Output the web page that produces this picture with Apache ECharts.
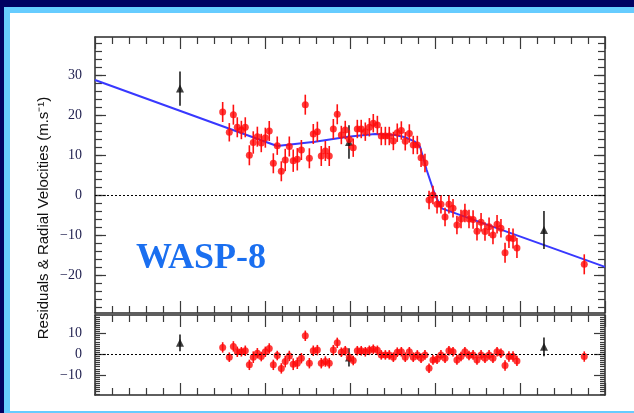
<!DOCTYPE html>
<html lang="en">
<head>
<meta charset="UTF-8">
<title>WASP-8</title>
<script src="https://cdn.jsdelivr.net/npm/echarts@6/dist/echarts.min.js"></script>
<style>
html, body { margin: 0; padding: 0; background: #000062; }
#container { width: 634px; height: 413px; }
</style>
</head>
<body>
<div id="container"></div>
<script>
// orbital phase (arbitrary axis units, 0..30, no labels on the plot)
var phase = [7.51, 7.90, 8.14, 8.37, 8.61, 8.84, 9.08, 9.31, 9.55, 9.78,
             10.02, 10.25, 10.49, 10.72, 10.96, 11.19, 11.43, 11.66, 11.90, 12.14,
             12.37, 12.61, 12.84, 13.08, 13.31, 13.55, 13.78, 14.02, 14.25, 14.49,
             14.72, 14.96, 15.19, 15.43, 15.66, 15.90, 16.14, 16.37, 16.61, 16.84,
             17.08, 17.31, 17.55, 17.78, 18.02, 18.25, 18.49, 18.72, 18.96, 19.18,
             19.41, 19.65, 19.88, 20.12, 20.35, 20.59, 20.82, 21.06, 21.29, 21.53,
             21.76, 22.00, 22.24, 22.47, 22.71, 22.94, 23.18, 23.41, 23.65, 23.88,
             24.12, 24.35, 24.59, 24.82, 28.78];
var rv = [20.75, 15.68, 20.08, 16.93, 16.25, 16.93, 9.93, 13.13, 14.58, 13.0,
          14.33, 16.0, 7.93, 12.33, 5.93, 8.75, 12.13, 8.58, 8.93, 11.25,
          22.58, 9.18, 15.25, 15.83, 9.75, 11.0, 9.75, 16.5, 20.18, 15.0,
          16.25, 13.88, 11.83, 16.5, 16.5, 15.83, 16.93, 17.95, 17.5, 14.75,
          14.75, 14.75, 13.5, 15.58, 16.13, 13.43, 15.38, 12.5, 12.5, 9.33,
          8.0, -1.25, 0, -2.33, -2.33, -5.5, -2.33, -3.33, -7.5, -6.0,
          -4.5, -6.0, -6.13, -9.08, -6.83, -9.13, -7.93, -10.0, -7.33, -8.33,
          -14.43, -10.75, -10.88, -13.25, -17.33];
var rvErr = [2.5, 2.3, 2.5, 2.5, 2.3, 2.5, 2.5, 2.8, 2.5, 2.3,
             2.5, 2.5, 2.5, 2.3, 2.5, 2.8, 2.5, 2.8, 2.8, 2.5,
             2.5, 2.5, 2.5, 2.5, 2.5, 2.5, 2.5, 2.5, 2.5, 2.3,
             2.3, 2.3, 2.3, 2.3, 2.3, 2.3, 2.3, 2.3, 2.3, 2.3,
             2.3, 2.3, 2.3, 2.3, 2.3, 2.3, 2.3, 2.3, 2.3, 2.3,
             2.3, 2.3, 2.3, 2.3, 2.3, 2.3, 2.3, 2.3, 2.3, 2.3,
             2.3, 2.3, 2.3, 2.3, 2.3, 2.3, 2.3, 2.3, 2.3, 2.3,
             2.5, 2.5, 2.5, 2.5, 2.5];
var resid = [3.3, -1.4, 3.8, 1.2, 1.2, 1.7, -5.1, -1.4, 0.5, -1.1,
             1.2, 2.8, -5.1, -0.6, -6.8, -3.5, -0.8, -4.8, -4.3, -1.9,
             8.9, -4.3, 1.7, 2.0, -4.3, -3.5, -4.3, 2.0, 5.5, 1.0,
             1.7, -1.4, -3.0, 1.7, 1.7, 1.2, 1.9, 2.4, 1.9, -0.3,
             -0.3, -0.3, -1.4, 1.0, 1.2, -1.4, 1.2, -1.4, -0.3, -1.9,
             -0.3, -6.7, -2.7, -2.4, -0.3, -1.9, 1.7, 1.2, -2.7, -1.1,
             1.2, -0.6, -0.3, -2.7, -0.3, -1.9, -0.3, -1.9, 1.2, 0.5,
             -5.4, -1.1, -1.1, -3.2, -1.1];

// black reference points
var refPhase = [5.0, 14.94, 26.41];
var refRv = [26.6, 13.25, -8.75];
var refErr = [4.3, 4.2, 4.75];
var refResid = [5.5, -1.5, 3.6];
var refResidErr = [4.0, 4.4, 4.5];

// fitted model
var modelPhase = [0, 10.71, 12.94, 14.88, 16.47, 17.65, 18.24, 18.82, 19.12, 19.51, 20.0, 20.39, 30];
var modelRv = [28.75, 12.25, 13.33, 14.58, 15.25, 15.0, 14.43, 13.33, 12.08, 6.25, 0, -3.33, -17.97];

var mainTicks = [-20, -10, 0, 10, 20, 30];
var residTicks = [-10, 0, 10];

var mainMinor = [];
for (var v = -28; v <= 38; v += 2) mainMinor.push(v);
var residMinor = [];
for (var w = -19; w <= 18; w += 1) residMinor.push(w);

var frameColor = '#2a2a2a';
var tickColor = '#3a3a3a';
var labelColor = '#1e1e4e';

function pairs(xs, ys) {
    return xs.map(function (x, i) { return [x, ys[i]]; });
}

function errBars(xs, ys, es, color, xi, yi, width) {
    return {
        type: 'custom',
        xAxisIndex: xi,
        yAxisIndex: yi,
        silent: true,
        encode: { x: 0, y: [1, 2] },
        data: xs.map(function (x, i) { return [x, ys[i] - es[i], ys[i] + es[i]]; }),
        renderItem: function (params, api) {
            var p0 = api.coord([api.value(0), api.value(1)]);
            var p1 = api.coord([api.value(0), api.value(2)]);
            return {
                type: 'line',
                shape: { x1: p0[0], y1: p0[1], x2: p1[0], y2: p1[1] },
                style: { stroke: color, lineWidth: width }
            };
        },
        z: 3
    };
}

function xAx(grid, pos) {
    return {
        type: 'value', gridIndex: grid, position: pos,
        min: 0, max: 30, interval: 5,
        axisLine: { show: true, onZero: false, lineStyle: { color: frameColor, width: 1.5 } },
        axisTick: { show: true, inside: true, length: 12, lineStyle: { color: tickColor, width: 1.2 } },
        minorTick: { show: true, splitNumber: 5, length: 7, lineStyle: { color: tickColor, width: 1.2 } },
        axisLabel: { show: false },
        splitLine: { show: false }
    };
}

function yAx(grid, pos, min, max, ticks, len, labels, line) {
    return {
        type: 'value', gridIndex: grid, position: pos,
        min: min, max: max,
        axisLine: { show: line, onZero: false, lineStyle: { color: frameColor, width: 1.5 } },
        axisTick: { show: true, inside: true, length: len, customValues: ticks,
                    lineStyle: { color: tickColor, width: 1.2 } },
        axisLabel: labels ? {
            show: true, customValues: ticks, margin: 13,
            fontFamily: '"Liberation Serif", "Times New Roman", serif',
            fontSize: 14, color: labelColor,
            formatter: function (val) { return String(val).replace('-', '\u2212'); }
        } : { show: false },
        splitLine: { show: false }
    };
}

var mainMin = -29.5, mainMax = 39.5;
var resMin = -19.6, resMax = 18.9;

var dom = document.getElementById('container');
var myChart = echarts.init(dom);

var option = {
    animation: false,
    backgroundColor: '#000062',
    graphic: [
        { type: 'rect', z: -100, shape: { x: 4, y: 7, width: 630, height: 406 }, style: { fill: '#66ccff' } },
        { type: 'rect', z: -99, shape: { x: 10, y: 13, width: 624, height: 398 }, style: { fill: '#ffffff' } },
        {
            type: 'text', z: 10, left: 136, top: 241,
            style: {
                text: 'WASP-8', fill: '#1a6ff0',
                font: 'bold 36px "Liberation Serif", "Times New Roman", serif'
            }
        },
        {
            type: 'text', z: 10, x: 44, y: 218, rotation: Math.PI / 2,
            style: {
                text: 'Residuals & Radial Velocities (m.s\u207B\u00B9)', fill: '#111',
                font: '15px "Liberation Sans", Arial, sans-serif',
                align: 'center', verticalAlign: 'middle'
            }
        }
    ],
    grid: [
        { left: 95, top: 37, width: 510, height: 276 },
        { left: 95, top: 315, width: 510, height: 80 }
    ],
    xAxis: [xAx(0, 'bottom'), xAx(0, 'top'), xAx(1, 'bottom'), xAx(1, 'top')],
    yAxis: [
        yAx(0, 'left', mainMin, mainMax, mainTicks, 11, true, true),
        yAx(0, 'left', mainMin, mainMax, mainMinor, 7, false, false),
        yAx(0, 'right', mainMin, mainMax, mainTicks, 11, false, true),
        yAx(0, 'right', mainMin, mainMax, mainMinor, 7, false, false),
        yAx(1, 'left', resMin, resMax, residTicks, 11, true, true),
        yAx(1, 'left', resMin, resMax, residMinor, 5, false, false),
        yAx(1, 'right', resMin, resMax, residTicks, 11, false, true),
        yAx(1, 'right', resMin, resMax, residMinor, 5, false, false)
    ],
    series: [
        {
            type: 'line', xAxisIndex: 0, yAxisIndex: 0,
            data: pairs(modelPhase, modelRv),
            showSymbol: false, symbol: 'none', silent: true,
            lineStyle: { color: '#3838ff', width: 2 },
            markLine: {
                silent: true, symbol: 'none', label: { show: false },
                lineStyle: { color: '#000', width: 1, type: [2, 2] },
                data: [{ yAxis: 0 }]
            },
            z: 2
        },
        errBars(refPhase, refRv, refErr, '#111', 0, 0, 1.5),
        {
            type: 'scatter', xAxisIndex: 0, yAxisIndex: 0,
            data: pairs(refPhase, refRv), symbol: 'triangle', symbolSize: 8,
            itemStyle: { color: '#111' }, silent: true, z: 3
        },
        errBars(phase, rv, rvErr, '#ff1010', 0, 0, 1.6),
        {
            type: 'scatter', xAxisIndex: 0, yAxisIndex: 0,
            data: pairs(phase, rv), symbolSize: 7,
            itemStyle: { color: '#ff0a0a' }, silent: true, z: 4
        },
        {
            type: 'line', xAxisIndex: 2, yAxisIndex: 4,
            data: [], silent: true,
            markLine: {
                silent: true, symbol: 'none', label: { show: false },
                lineStyle: { color: '#000', width: 1, type: [2, 2] },
                data: [{ yAxis: 0 }]
            }
        },
        errBars(refPhase, refResid, refResidErr, '#111', 2, 4, 1.5),
        {
            type: 'scatter', xAxisIndex: 2, yAxisIndex: 4,
            data: pairs(refPhase, refResid), symbol: 'triangle', symbolSize: 8,
            itemStyle: { color: '#111' }, silent: true, z: 3
        },
        errBars(phase, resid, rvErr, '#ff1010', 2, 4, 1.6),
        {
            type: 'scatter', xAxisIndex: 2, yAxisIndex: 4,
            data: pairs(phase, resid), symbolSize: 7,
            itemStyle: { color: '#ff0a0a' }, silent: true, z: 4
        }
    ]
};
myChart.setOption(option, true);
</script>
</body>
</html>
